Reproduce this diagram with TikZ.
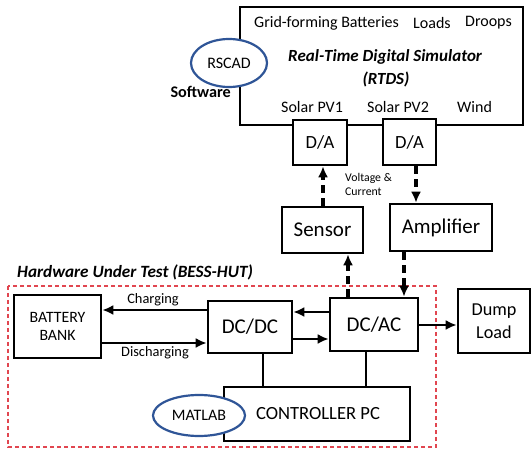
\documentclass[tikz,border=0pt]{standalone}
\usepackage{fontspec}
\setmainfont{Carlito}
\usetikzlibrary{arrows.meta,shapes.geometric}
\definecolor{ellblue}{RGB}{47,85,151}
\definecolor{hutred}{RGB}{225,70,80}
\begin{document}
\begin{tikzpicture}[x=1pt,y=-1pt,
  box/.style={draw, line width=2.6pt, fill=white, inner sep=0pt, align=center},
  sarrow/.style={line width=2.8pt, -{Latex[length=11pt,width=10pt]}},
  darrow/.style={line width=3.4pt, dash pattern=on 8pt off 5pt, -{Latex[length=11pt,width=10pt]}},
  plain/.style={line width=2.4pt},
  soft/.style={draw=ellblue, line width=2.2pt, ellipse, fill=white, inner sep=0pt},
  lab/.style={inner sep=0pt},
  big/.style={font=\fontsize{21}{24}\selectfont},
  mid/.style={font=\fontsize{18.6}{23}\selectfont},
  sm/.style={font=\fontsize{16}{18.5}\selectfont},
]
\useasboundingbox (0,0) rectangle (531,449);

% hardware under test frame
\draw[hutred, line width=1.3pt, dash pattern=on 4pt off 3pt] (8,286) rectangle (436,447);
\node[lab, anchor=west, font=\fontsize{17.2}{20}\selectfont\bfseries\itshape] (hut) at (17,272) {Hardware Under Test (BESS-HUT)};

% RTDS
\node[box, minimum width=283, minimum height=118] (rtds) at (381.5,66) {};
\node[soft, minimum width=76, minimum height=48, sm] (rscad) at (229,63) {RSCAD};
\node[lab, anchor=east, font=\fontsize{16.2}{19}\selectfont\bfseries] (soft) at (231,92) {Software};
\node[lab, anchor=west, sm] (t1) at (254,23) {Grid-forming Batteries};
\node[lab, anchor=west, sm] (t2) at (413,23) {Loads};
\node[lab, anchor=west, sm] (t3) at (465,23) {Droops};
\node[lab, anchor=west, font=\fontsize{17}{20}\selectfont\bfseries\itshape] (t4) at (288,57) {Real-Time Digital Simulator};
\node[lab, font=\fontsize{17}{20}\selectfont\bfseries\itshape] (t5) at (386,79) {(RTDS)};
\node[lab, anchor=west, sm] (t6) at (281,107) {Solar PV1};
\node[lab, anchor=west, sm] (t7) at (367,107) {Solar PV2};
\node[lab, anchor=west, sm] (t8) at (457,107) {Wind};

\node[box, minimum width=54, minimum height=45, mid] (da1) at (320,142.5) {D/A};
\node[box, minimum width=53, minimum height=46, mid] (da2) at (409.5,142) {D/A};

\node[box, minimum width=81, minimum height=46, big] (sensor) at (322.5,230) {Sensor};
\node[box, minimum width=102, minimum height=47, big] (amp) at (441,227.5) {Amplifier};

\node[lab, anchor=west, font=\fontsize{11.8}{14}\selectfont] (vc1) at (345,178) {Voltage \&};
\node[lab, anchor=west, font=\fontsize{11.8}{14}\selectfont] (vc2) at (345,192) {Current};

% hardware
\node[box, minimum width=87, minimum height=63, font=\fontsize{15.8}{18.5}\selectfont] (battery) at (57.5,326.5) {BATTERY\\BANK};
\node[box, minimum width=84, minimum height=52, big] (dcdc) at (250,327) {DC/DC};
\node[box, minimum width=88, minimum height=53, big] (dcac) at (374,324.5) {DC/AC};
\node[box, minimum width=72, minimum height=64, font=\fontsize{18.2}{23}\selectfont] (dump) at (494,321) {Dump\\Load};
\node[box, minimum width=186, minimum height=54, font=\fontsize{18.6}{22}\selectfont] (ctrl) at (317,414) {\hspace*{2pt}CONTROLLER PC};
\node[soft, minimum width=92, minimum height=41, sm] (matlab) at (199,415.5) {MATLAB};

% labels on battery arrows
\node[lab, font=\fontsize{14.4}{17}\selectfont] (chg) at (153,300) {Charging};
\node[lab, font=\fontsize{14.4}{17}\selectfont] (dis) at (155,353) {Discharging};

% solid arrows
\draw[sarrow] (dcdc.west |- 0,310) -- (battery.east |- 0,310);
\draw[sarrow] (battery.east |- 0,343) -- (dcdc.west |- 0,343);
\draw[sarrow] (dcac.west |- 0,312) -- (dcdc.east |- 0,312);
\draw[sarrow] (dcdc.east |- 0,339) -- (dcac.west |- 0,339);
\draw[sarrow] (dcac.east |- 0,325) -- (dump.west |- 0,325);

% controller links
\draw[plain] (dcdc.south -| 263,0) -- (ctrl.north -| 263,0);
\draw[plain] (dcac.south -| 366,0) -- (ctrl.north -| 366,0);

% dashed signal arrows
\draw[darrow] (sensor.north -| 323,0) -- (da1.south -| 323,0);
\draw[darrow] (da2.south -| 416,0) -- (amp.north -| 416,0);
\draw[darrow] (dcac.north -| 348,0) -- (sensor.south -| 348,0);
\draw[darrow] (amp.south -| 404,0) -- (dcac.north -| 404,0);
\end{tikzpicture}
\end{document}
